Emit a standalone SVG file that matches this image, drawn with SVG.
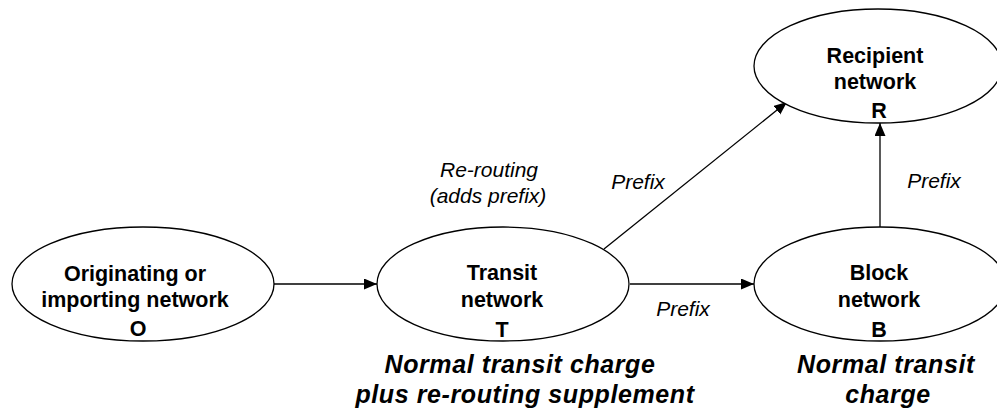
<svg xmlns="http://www.w3.org/2000/svg" width="997" height="414" viewBox="0 0 997 414">
  <style>
    .node { fill: #ffffff; stroke: #000000; stroke-width: 1.3; }
    .edge { fill: none; stroke: #000000; stroke-width: 1.3; marker-end: url(#arrow); }
    .name { font-family: "Liberation Sans", Arial, sans-serif; font-weight: bold; font-size: 21.5px; fill: #000000; text-anchor: middle; }
    .lbl { font-family: "Liberation Sans", Arial, sans-serif; font-style: italic; font-size: 21px; fill: #000000; text-anchor: middle; }
    .charge { font-family: "Liberation Sans", Arial, sans-serif; font-style: italic; font-weight: bold; font-size: 25px; letter-spacing: 0.6px; fill: #000000; text-anchor: middle; }
  </style>
  <defs>
    <marker id="arrow" markerUnits="userSpaceOnUse" markerWidth="14" markerHeight="12" refX="13" refY="5.5" orient="auto">
      <path d="M0,0 L13,5.5 L0,11 z" fill="#000000"/>
    </marker>
  </defs>
  <rect width="997" height="414" fill="#ffffff"/>

  <!-- connectors -->
  <g id="connectors">
    <line class="edge" x1="274" y1="284" x2="377" y2="284"/>
    <line class="edge" x1="630" y1="284" x2="754" y2="284"/>
    <line class="edge" x1="604" y1="249" x2="787" y2="102"/>
    <line class="edge" x1="880" y1="227" x2="880" y2="123"/>
    <text class="lbl" x="489" y="177">Re-routing</text>
    <text class="lbl" x="488" y="203">(adds prefix)</text>
    <text class="lbl" x="638" y="189">Prefix</text>
    <text class="lbl" x="683" y="316">Prefix</text>
    <text class="lbl" x="934" y="188">Prefix</text>
  </g>

  <!-- originating / importing network -->
  <g id="node-O">
    <ellipse class="node" cx="143" cy="284" rx="131" ry="57"/>
    <text class="name" x="135" y="281">Originating or</text>
    <text class="name" x="135" y="307">importing network</text>
    <text class="name" x="138" y="336">O</text>
  </g>

  <!-- transit network -->
  <g id="node-T">
    <ellipse class="node" cx="503" cy="284" rx="126" ry="57"/>
    <text class="name" x="502" y="280">Transit</text>
    <text class="name" x="502" y="307">network</text>
    <text class="name" x="502" y="337">T</text>
  </g>

  <!-- block network -->
  <g id="node-B">
    <ellipse class="node" cx="880" cy="284" rx="126" ry="57"/>
    <text class="name" x="879" y="280">Block</text>
    <text class="name" x="879" y="307">network</text>
    <text class="name" x="879" y="337">B</text>
  </g>

  <!-- recipient network -->
  <g id="node-R">
    <ellipse class="node" cx="878" cy="66" rx="124" ry="57"/>
    <text class="name" x="875" y="63">Recipient</text>
    <text class="name" x="875" y="89">network</text>
    <text class="name" x="879" y="118">R</text>
  </g>

  <!-- charges -->
  <g id="charges">
    <text class="charge" x="520" y="373">Normal transit charge</text>
    <text class="charge" x="525" y="403">plus re-routing supplement</text>
    <text class="charge" x="886" y="373">Normal transit</text>
    <text class="charge" x="888" y="403">charge</text>
  </g>
</svg>
